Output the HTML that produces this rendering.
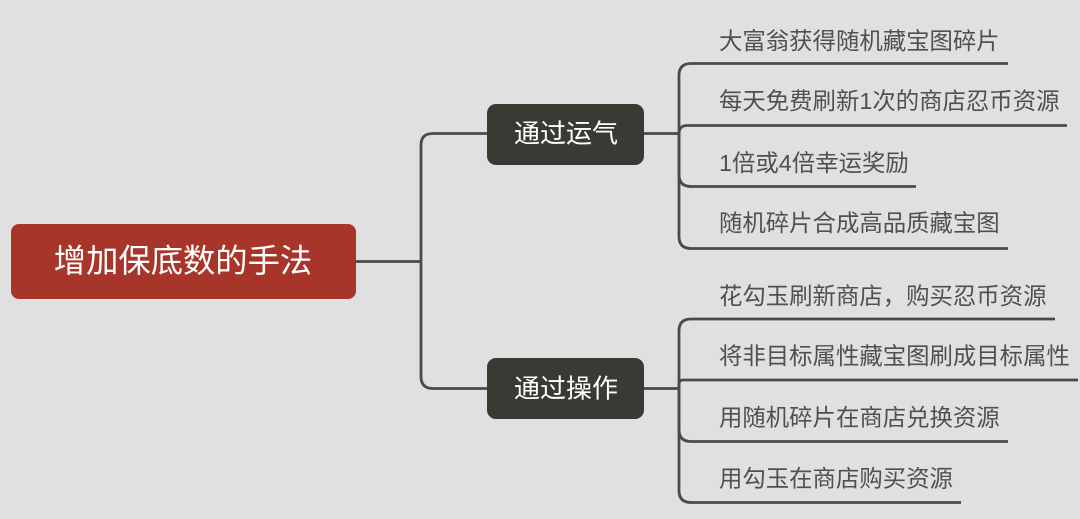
<!DOCTYPE html>
<html>
<head>
<meta charset="utf-8">
<style>
  html,body{margin:0;padding:0;background:#e0e0e0;}
  body{width:1080px;height:519px;overflow:hidden;}
  svg{display:block;}
  text{font-family:"Liberation Sans","Noto Sans CJK SC","WenQuanYi Zen Hei",sans-serif;}
</style>
</head>
<body>
<svg width="1080" height="519" viewBox="0 0 1080 519" xmlns="http://www.w3.org/2000/svg">
  <rect x="0" y="0" width="1080" height="519" fill="#e0e0e0"/>

  <g fill="none" stroke="#4a4a4a" stroke-width="2.8" stroke-linecap="butt">
    <!-- root to branches -->
    <path d="M356 261.5 H421"/>
    <path d="M421 261.5 V145 Q421 133.5 433 133.5 H490"/>
    <path d="M421 261.5 V376.5 Q421 388.5 433 388.5 H490"/>

    <!-- branch 1 -->
    <path d="M643 133.5 H679"/>
    <path d="M679 133.5 V75.5 Q679 63.5 691 63.5 H1008"/>
    <path d="M679 133.5 V133.5 Q679 125.5 687 125.5 H1067"/>
    <path d="M679 133.5 V174.5 Q679 186.5 691 186.5 H916"/>
    <path d="M679 133.5 V236.5 Q679 248.5 691 248.5 H1008"/>

    <!-- branch 2 -->
    <path d="M643 388.5 H679"/>
    <path d="M679 388.5 V331 Q679 319 691 319 H1055"/>
    <path d="M679 388.5 V384 Q679 380 683 380 H1078"/>
    <path d="M679 388.5 V429.5 Q679 441.5 691 441.5 H1008"/>
    <path d="M679 388.5 V490.5 Q679 502.5 691 502.5 H961"/>
  </g>

  <!-- root node -->
  <rect x="11" y="224" width="345" height="75" rx="8" ry="8" fill="#a8352a"/>
  <text x="183" y="261" fill="#ffffff" font-size="32.3" text-anchor="middle" dominant-baseline="central">增加保底数的手法</text>

  <!-- branch nodes -->
  <rect x="487" y="104" width="157" height="61" rx="9" ry="9" fill="#3a3a35"/>
  <text x="566" y="133.5" fill="#ffffff" font-size="26" text-anchor="middle" dominant-baseline="central">通过运气</text>

  <rect x="487" y="358" width="157" height="61" rx="9" ry="9" fill="#3a3a35"/>
  <text x="566" y="388.5" fill="#ffffff" font-size="26" text-anchor="middle" dominant-baseline="central">通过操作</text>

  <!-- leaves -->
  <g fill="#505050" font-size="23.4" dominant-baseline="central">
    <text x="719" y="41">大富翁获得随机藏宝图碎片</text>
    <text x="719" y="101">每天免费刷新1次的商店忍币资源</text>
    <text x="719" y="163">1倍或4倍幸运奖励</text>
    <text x="719" y="223">随机碎片合成高品质藏宝图</text>
    <text x="719" y="296">花勾玉刷新商店，购买忍币资源</text>
    <text x="719" y="356">将非目标属性藏宝图刷成目标属性</text>
    <text x="719" y="417.5">用随机碎片在商店兑换资源</text>
    <text x="719" y="478.5">用勾玉在商店购买资源</text>
  </g>
</svg>
</body>
</html>
